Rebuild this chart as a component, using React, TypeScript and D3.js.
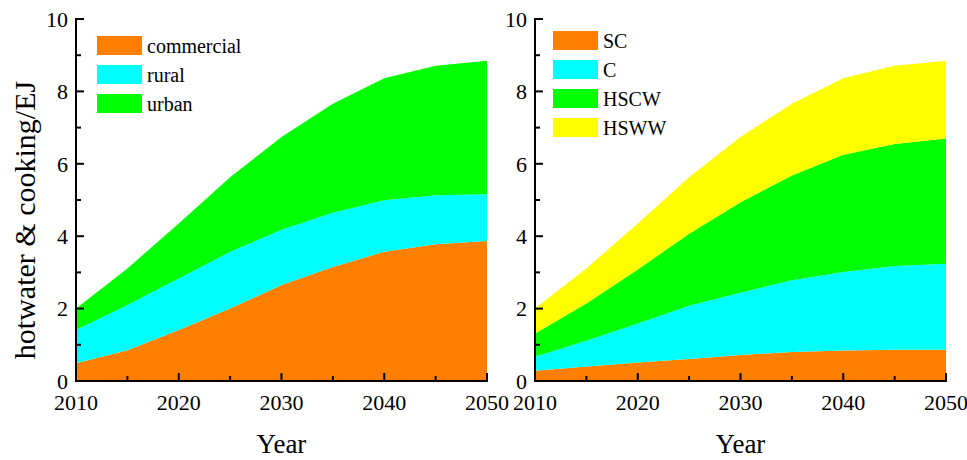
import React from "react";
import * as d3 from "d3";

const years = [2010, 2015, 2020, 2025, 2030, 2035, 2040, 2045, 2050];
// Left panel (stacked)
const commercial = [0.49, 0.85, 1.41, 2.0, 2.65, 3.15, 3.57, 3.78, 3.87];
const rural = [0.92, 1.25, 1.42, 1.57, 1.53, 1.5, 1.42, 1.35, 1.29];
const urban = [0.59, 1.01, 1.52, 2.06, 2.56, 3.01, 3.37, 3.58, 3.69];
// Right panel (stacked)
const SC = [0.28, 0.4, 0.51, 0.61, 0.72, 0.8, 0.84, 0.86, 0.86];
const C = [0.39, 0.71, 1.08, 1.47, 1.72, 1.98, 2.17, 2.32, 2.38];
const HSCW = [0.64, 1.03, 1.49, 1.99, 2.5, 2.9, 3.24, 3.37, 3.46];
const HSWW = [0.69, 0.97, 1.27, 1.56, 1.8, 1.98, 2.11, 2.16, 2.15];

const leftNames = ["commercial", "rural", "urban"];
const rightNames = ["SC", "C", "HSCW", "HSWW"];
const colors4 = ["#FF8000", "#00FFFF", "#00FF00", "#FFFF00"];
const yTicks = [0, 2, 4, 6, 8, 10];
const yMinor = [1, 3, 5, 7, 9];
const xTicks = [2010, 2020, 2030, 2040, 2050];
const xMinor = [2015, 2025, 2035, 2045];

const FONT = "'Liberation Serif', 'Times New Roman', serif";

type PanelProps = {
  x0: number;
  x1: number;
  series: number[][];
  names: string[];
  legendX: number;
  legendY: number;
  yLabel?: string;
};

function Panel({ x0, x1, series, names, legendX, legendY, yLabel }: PanelProps) {
  const yTop = 19;
  const yBot = 381;
  const x = d3.scaleLinear().domain([2010, 2050]).range([x0, x1]);
  const y = d3.scaleLinear().domain([0, 10]).range([yBot, yTop]);
  const rows = years.map((yr, i) => {
    const o: any = { year: yr };
    names.forEach((n, k) => (o[n] = series[k][i]));
    return o;
  });
  const stacked = d3.stack<any>().keys(names)(rows);
  const area = d3
    .area<any>()
    .x((d) => x(d.data.year))
    .y0((d) => y(d[0]))
    .y1((d) => y(d[1]))
    .curve(d3.curveLinear);
  return (
    <g>
      {stacked.map((s, k) => (
        <path key={k} d={area(s as any) || ""} fill={colors4[k]} stroke="none" />
      ))}
      {/* axes */}
      <line x1={x0} x2={x0} y1={yTop - 1} y2={yBot + 1} stroke="#000" strokeWidth={2} />
      <line x1={x0 - 1} x2={x1 + 1} y1={yBot} y2={yBot} stroke="#000" strokeWidth={2} />
      {yTicks.map((t) => (
        <g key={"yt" + t}>
          <line x1={x0} x2={x0 + 8} y1={y(t)} y2={y(t)} stroke="#000" strokeWidth={2} />
          <text x={x0 - 8} y={y(t)} dy="0.35em" textAnchor="end" fontSize={22} fontFamily={FONT} fill="#000">
            {t}
          </text>
        </g>
      ))}
      {yMinor.map((t) => (
        <line key={"ym" + t} x1={x0} x2={x0 + 5} y1={y(t)} y2={y(t)} stroke="#000" strokeWidth={2} />
      ))}
      {xTicks.map((t) => (
        <g key={"xt" + t}>
          <line x1={x(t)} x2={x(t)} y1={yBot} y2={yBot - 8} stroke="#000" strokeWidth={2} />
          <text x={x(t)} y={410} textAnchor="middle" fontSize={22} fontFamily={FONT} fill="#000">
            {t}
          </text>
        </g>
      ))}
      {xMinor.map((t) => (
        <line key={"xm" + t} x1={x(t)} x2={x(t)} y1={yBot} y2={yBot - 5} stroke="#000" strokeWidth={2} />
      ))}
      <text x={(x0 + x1) / 2} y={453} textAnchor="middle" fontSize={27} fontFamily={FONT} fill="#000">
        Year
      </text>
      {yLabel && (
        <text
          transform={`translate(35, 220) rotate(-90)`}
          textAnchor="middle"
          fontSize={30}
          fontFamily={FONT}
          fill="#000"
        >
          {yLabel}
        </text>
      )}
      {names.map((n, k) => (
        <g key={"lg" + n}>
          <rect x={legendX} y={legendY + k * 29} width={45} height={19} fill={colors4[k]} />
          <text x={legendX + 50} y={legendY + k * 29 + 17} fontSize={20} fontFamily={FONT} fill="#000">
            {n}
          </text>
        </g>
      ))}
    </g>
  );
}

export default function App() {
  return (
    <svg
      width={967}
      height={460}
      style={{ position: "absolute", left: 0, top: 0, background: "#fff" }}
    >
      <rect width={967} height={460} fill="#fff" />
      <Panel
        x0={76}
        x1={487}
        series={[commercial, rural, urban]}
        names={leftNames}
        legendX={97}
        legendY={36}
        yLabel="hotwater & cooking/EJ"
      />
      <Panel
        x0={535}
        x1={946}
        series={[SC, C, HSCW, HSWW]}
        names={rightNames}
        legendX={553}
        legendY={31}
      />
    </svg>
  );
}
